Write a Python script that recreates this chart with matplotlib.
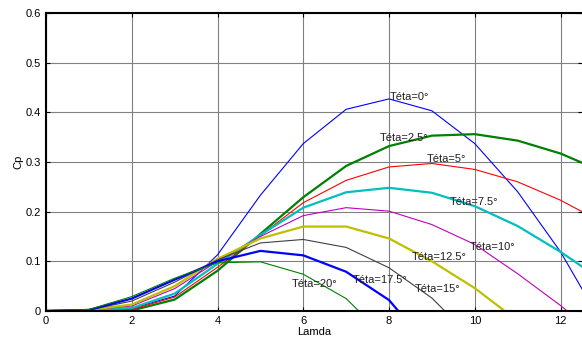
import matplotlib
matplotlib.use("Agg")
import matplotlib.pyplot as plt

lamda = [0, 1, 2, 3, 4, 5, 6, 7, 8, 9, 10, 11, 12, 13]

cp_0 = [0, 0.002, 0.005, 0.03, 0.113, 0.233, 0.337, 0.406, 0.427, 0.403, 0.337, 0.24, 0.119, -0.03]
cp_2_5 = [0, 0.002, 0.001, 0.023, 0.081, 0.155, 0.229, 0.292, 0.332, 0.353, 0.356, 0.343, 0.317, 0.28]
cp_5 = [0, 0.002, 0.003, 0.028, 0.088, 0.152, 0.218, 0.263, 0.290, 0.297, 0.285, 0.26, 0.223, 0.177]
cp_7_5 = [0, 0.002, 0.006, 0.035, 0.095, 0.153, 0.208, 0.239, 0.248, 0.238, 0.211, 0.171, 0.119, 0.06]
cp_10 = [0, 0.002, 0.010, 0.045, 0.100, 0.150, 0.192, 0.208, 0.201, 0.174, 0.134, 0.075, 0.011, -0.06]
cp_12_5 = [0, 0.002, 0.013, 0.050, 0.105, 0.146, 0.170, 0.170, 0.146, 0.100, 0.046, -0.02, -0.1, -0.2]
cp_15 = [0, 0.002, 0.020, 0.058, 0.103, 0.137, 0.144, 0.128, 0.087, 0.026, -0.06, -0.15, -0.25, -0.35]
cp_17_5 = [0, 0.002, 0.025, 0.063, 0.100, 0.121, 0.112, 0.079, 0.022, -0.08, -0.18, -0.28, -0.38, -0.48]
cp_20 = [0, 0.003, 0.029, 0.066, 0.097, 0.099, 0.074, 0.025, -0.06, -0.15, -0.25, -0.35, -0.45, -0.55]

series = [
    (cp_0, "#0000ff", 0.8),
    (cp_2_5, "#008000", 1.6),
    (cp_5, "#ff0000", 0.8),
    (cp_7_5, "#00bfbf", 1.6),
    (cp_10, "#bf00bf", 0.8),
    (cp_12_5, "#bfbf00", 1.6),
    (cp_15, "#404040", 0.8),
    (cp_17_5, "#0000ff", 1.6),
    (cp_20, "#008000", 0.8),
]

labels = ["Téta=0°", "Téta=2.5°", "Téta=5°", "Téta=7.5°", "Téta=10°",
          "Téta=12.5°", "Téta=15°", "Téta=17.5°", "Téta=20°"]
label_x = [8.02, 7.78, 8.88, 9.41, 9.89, 8.52, 8.59, 7.16, 5.73]
label_y = [0.430, 0.349, 0.306, 0.220, 0.128, 0.108, 0.044, 0.062, 0.055]

plt.rcParams["font.family"] = ["Liberation Sans", "DejaVu Sans"]

fig = plt.figure(figsize=(5.82, 3.41), dpi=100)
ax = fig.add_axes([0.079, 0.088, 0.921, 0.874])

for vals, col, lw in series:
    ax.plot(lamda, vals, color=col, lw=lw)

for txt, x, y in zip(labels, label_x, label_y):
    ax.text(x, y, txt, fontsize=8, ha="left", va="center", color="#202020")

ax.set_xlim(0, 12.5)
ax.set_ylim(0, 0.6)
ax.set_xticks([0, 2, 4, 6, 8, 10, 12])
ax.set_yticks([0, 0.1, 0.2, 0.3, 0.4, 0.5, 0.6])
ax.set_yticklabels(["0", "0.1", "0.2", "0.3", "0.4", "0.5", "0.6"])
ax.grid(True, color="#808080", lw=0.8)
ax.tick_params(direction="in", labelsize=8, length=3, top=True, right=True)
ax.spines["right"].set_visible(False)
for s in ["left", "bottom", "top"]:
    ax.spines[s].set_linewidth(1.5)
ax.set_xlabel("Lamda", fontsize=8, labelpad=1)
ax.set_ylabel("Cp", fontsize=8, labelpad=2)

fig.savefig("out.png", dpi=100)
